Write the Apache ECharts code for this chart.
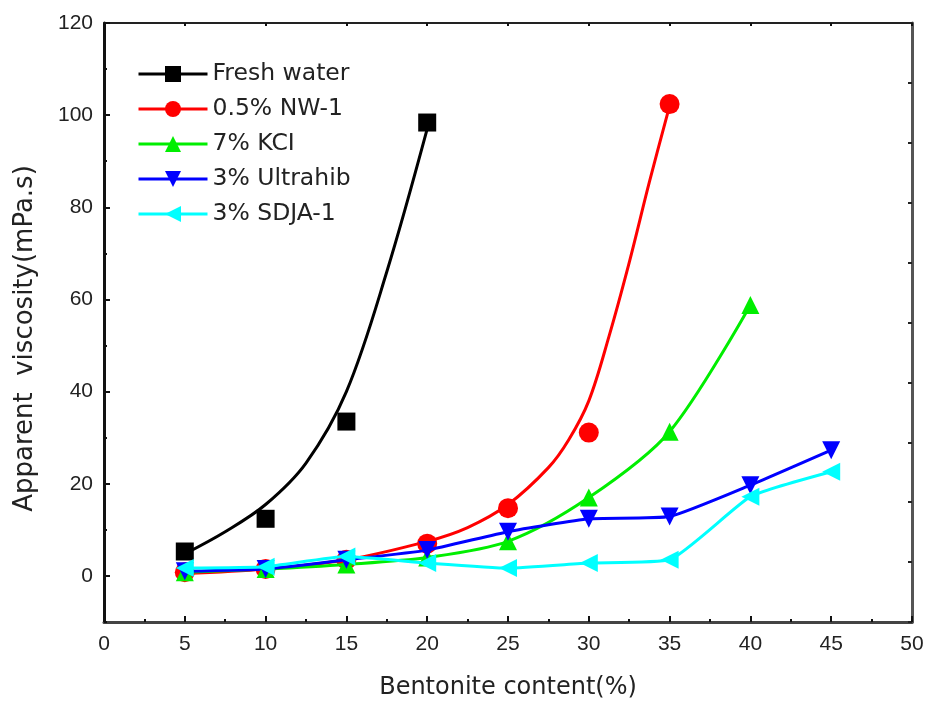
<!DOCTYPE html>
<html>
<head>
<meta charset="utf-8">
<script src="https://cdn.jsdelivr.net/npm/echarts@6/dist/echarts.min.js"></script>
<style>
  html, body { margin: 0; padding: 0; background: #fff; }
  #chart { width: 928px; height: 705px; }
</style>
</head>
<body>
<div id="chart"></div>
<script>
// Series names shown in the legend
const seriesNames = ['Fresh water', '0.5% NW-1', '7% KCI', '3% Ultrahib', '3% SDJA-1'];

// Measured apparent viscosity (mPa.s) against bentonite content (%)
const freshX = [5, 10, 15, 20];
const freshY = [5.3, 12.4, 33.5, 98.4];
const nw1X = [5, 10, 15, 20, 25, 30, 35];
const nw1Y = [0.8, 1.5, 3.5, 7, 14.7, 31.1, 102.4];
const kclX = [5, 10, 15, 20, 25, 30, 35, 40];
const kclY = [0.8, 1.5, 2.5, 4, 7.5, 17, 31.3, 58.8];
const ultraX = [5, 10, 15, 20, 25, 30, 35, 40, 45];
const ultraY = [1, 1.5, 3.5, 5.6, 9.6, 12.4, 12.9, 19.7, 27.3];
const sdjaX = [5, 10, 15, 20, 25, 30, 35, 40, 45];
const sdjaY = [1.7, 2, 4.2, 2.8, 1.7, 2.8, 3.5, 17.2, 22.6];

// Fitted trend curves for fresh water and 0.5% NW-1
const freshFitX = [5, 7.5, 10, 12.5, 15, 17.5, 20];
const freshFitY = [4.8, 9.6, 15.5, 24.5, 40, 66, 97];
const nw1FitX = [5, 10, 15, 20, 22.5, 25, 27.5, 28.75, 30, 31.25, 32.5, 33.75, 35];
const nw1FitY = [0.5, 1.5, 3.5, 7.5, 10.5, 15.5, 23.5, 29.5, 38, 52, 68, 85.5, 102];

// Axis tick values
const yLabelValues = [0, 20, 40, 60, 80, 100, 120];

const pairs = (xs, ys) => xs.map((x, i) => [x, ys[i]]);

const fontAxis = 'Liberation Sans';
const fontTitle = 'DejaVu Sans';

const chart = echarts.init(document.getElementById('chart'), null, { renderer: 'canvas' });

const lineW = 3;

chart.setOption({
  animation: false,
  backgroundColor: '#fff',
  grid: { left: 104, right: 16, top: 23, bottom: 82, containLabel: false },
  legend: {
    data: seriesNames,
    orient: 'vertical',
    left: 137,
    top: 62,
    padding: 0,
    itemWidth: 69,
    itemHeight: 20,
    itemGap: 11,
    itemTextGap: 6,
    lineStyle: { width: 3 },
    textStyle: { fontFamily: fontTitle, fontSize: 23.5, color: '#222', lineHeight: 24 }
  },
  xAxis: [
    {
      type: 'value', min: 0, max: 50, interval: 5,
      name: 'Bentonite content(%)',
      nameLocation: 'middle', nameGap: 54,
      nameTextStyle: { fontFamily: fontTitle, fontSize: 24, color: '#222' },
      axisLine: { show: true, onZero: false, lineStyle: { color: '#444', width: 3 } },
      axisTick: { show: true, inside: true, length: 6, lineStyle: { color: '#111', width: 2 } },
      minorTick: { show: true, splitNumber: 2, length: 3, lineStyle: { color: '#111', width: 2 } },
      axisLabel: { fontFamily: fontAxis, fontSize: 21, color: '#222', margin: 12 },
      splitLine: { show: false }
    },
    {
      type: 'value', min: 0, max: 50, interval: 5, position: 'top',
      axisLine: { show: true, onZero: false, lineStyle: { color: '#222', width: 2 } },
      axisTick: { show: true, inside: true, length: 3, lineStyle: { color: '#111', width: 2 } },
      axisLabel: { show: false },
      splitLine: { show: false }
    }
  ],
  yAxis: [
    {
      type: 'value', min: -10, max: 120, interval: 10,
      name: 'Apparent  viscosity(mPa.s)',
      nameLocation: 'middle', nameGap: 66, nameRotate: 90,
      nameTextStyle: { fontFamily: fontTitle, fontSize: 26, color: '#222', padding: [0, 32, 0, 0] },
      axisLine: { show: true, onZero: false, lineStyle: { color: '#111', width: 3 } },
      axisTick: { show: true, inside: true, length: 6, customValues: yLabelValues, lineStyle: { color: '#111', width: 2 } },
      axisLabel: { fontFamily: fontAxis, fontSize: 21, color: '#222', margin: 11, customValues: yLabelValues },
      splitLine: { show: false }
    },
    {
      type: 'value', min: -10, max: 120, interval: 10, position: 'left',
      axisLine: { show: false },
      axisTick: { show: true, inside: true, length: 3, lineStyle: { color: '#111', width: 2 } },
      axisLabel: { show: false },
      splitLine: { show: false }
    },
    {
      type: 'value', min: 0, max: 10, interval: 1, position: 'right',
      axisLine: { show: true, onZero: false, lineStyle: { color: '#555', width: 3 } },
      axisTick: { show: true, inside: true, length: 4, lineStyle: { color: '#222', width: 2 } },
      axisLabel: { show: false },
      splitLine: { show: false }
    }
  ],
  series: [
    {
      name: seriesNames[0], type: 'line', data: pairs(freshFitX, freshFitY),
      smooth: 0.35, showSymbol: false, symbol: 'rect', symbolSize: 17,
      lineStyle: { color: '#000', width: lineW }, itemStyle: { color: '#000' }
    },
    {
      name: seriesNames[0], type: 'scatter', data: pairs(freshX, freshY),
      symbol: 'rect', symbolSize: 18, itemStyle: { color: '#000', opacity: 1 }
    },
    {
      name: seriesNames[1], type: 'line', data: pairs(nw1FitX, nw1FitY),
      smooth: 0.35, showSymbol: false, symbol: 'circle', symbolSize: 17,
      lineStyle: { color: '#ff0000', width: lineW }, itemStyle: { color: '#ff0000' }
    },
    {
      name: seriesNames[1], type: 'scatter', data: pairs(nw1X, nw1Y),
      symbol: 'circle', symbolSize: 20, itemStyle: { color: '#ff0000', opacity: 1 }
    },
    {
      name: seriesNames[2], type: 'line', data: pairs(kclX, kclY),
      smooth: 0.3, symbol: 'triangle', symbolSize: 18,
      lineStyle: { color: '#00ee00', width: lineW }, itemStyle: { color: '#00ee00' }
    },
    {
      name: seriesNames[3], type: 'line', data: pairs(ultraX, ultraY),
      smooth: 0.15, symbol: 'triangle', symbolRotate: 180, symbolSize: 18,
      lineStyle: { color: '#0000ff', width: lineW }, itemStyle: { color: '#0000ff' }
    },
    {
      name: seriesNames[4], type: 'line', data: pairs(sdjaX, sdjaY),
      smooth: 0.15, symbol: 'triangle', symbolRotate: 90, symbolSize: 18,
      lineStyle: { color: '#00ffff', width: lineW }, itemStyle: { color: '#00ffff' }
    }
  ]
});
</script>
</body>
</html>
